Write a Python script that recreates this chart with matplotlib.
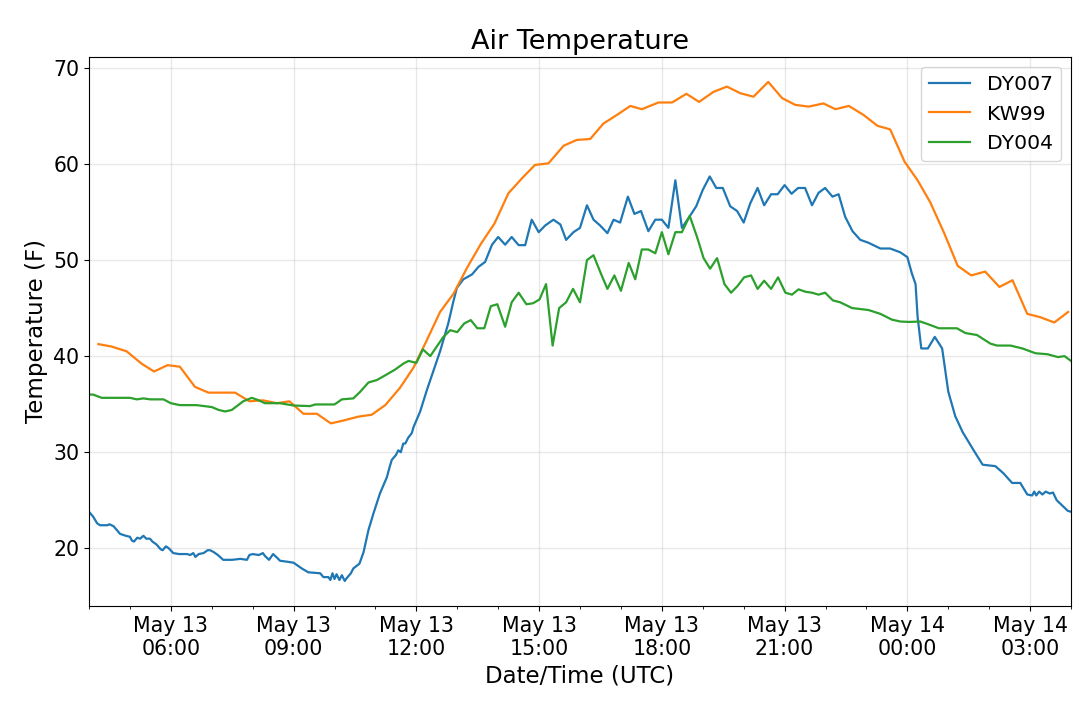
import matplotlib
matplotlib.use("Agg")
import matplotlib.pyplot as plt
import matplotlib.dates as mdates
import pandas as pd

# hours after 2019-05-13 04:00 UTC, temperature in F
START = pd.Timestamp("2019-05-13 04:00")

dy007_hours = [
    0.00, 0.10, 0.20, 0.27, 0.45, 0.50, 0.60, 0.70, 0.76, 0.90, 1.00, 1.05, 1.10, 1.18,
    1.25, 1.33, 1.40, 1.49, 1.55, 1.65, 1.75, 1.80, 1.88, 1.95, 2.06, 2.20, 2.40, 2.47,
    2.55, 2.60, 2.68, 2.80, 2.90, 2.96, 3.05, 3.15, 3.28, 3.50, 3.70, 3.86, 3.92, 4.00,
    4.15, 4.25, 4.30, 4.40, 4.50, 4.60, 4.67, 4.85, 5.00, 5.10, 5.20, 5.36, 5.65, 5.73,
    5.85, 5.90, 5.95, 6.00, 6.05, 6.12, 6.18, 6.25, 6.30, 6.40, 6.46, 6.55, 6.61, 6.71,
    6.83, 6.95, 7.11, 7.28, 7.35, 7.40, 7.50, 7.56, 7.62, 7.68, 7.73, 7.80, 7.89, 7.93,
    8.09, 8.26, 8.42, 8.58, 8.78, 8.90, 8.99, 9.15, 9.36, 9.52, 9.68, 9.85, 10.00,
    10.17, 10.33, 10.50, 10.66, 10.82, 10.99, 11.15, 11.35, 11.52, 11.66, 11.84, 12.00,
    12.17, 12.33, 12.49, 12.67, 12.82, 12.98, 13.17, 13.33, 13.49, 13.67, 13.84, 14.00,
    14.16, 14.33, 14.49, 14.65, 14.84, 15.00, 15.17, 15.33, 15.49, 15.67, 15.84, 16.00,
    16.16, 16.34, 16.50, 16.67, 16.83, 17.00, 17.17, 17.33, 17.50, 17.67, 17.83, 17.99,
    18.17, 18.32, 18.48, 18.66, 18.85, 19.05, 19.34, 19.58, 19.83, 20.00, 20.11, 20.20,
    20.25, 20.34, 20.50, 20.67, 20.85, 21.00, 21.17, 21.35, 21.62, 21.84, 22.15, 22.35,
    22.56, 22.76, 22.93, 23.05, 23.10, 23.15, 23.22, 23.30, 23.38, 23.48, 23.56, 23.65,
    23.82, 23.92, 24.00,
]
dy007_temp = [
    23.8, 23.3, 22.6, 22.4, 22.4, 22.5, 22.3, 21.8, 21.5, 21.3, 21.2, 20.8, 20.7, 21.1,
    21.0, 21.3, 21.0, 21.0, 20.7, 20.4, 19.9, 19.8, 20.2, 20.0, 19.5, 19.4, 19.4, 19.3,
    19.5, 19.1, 19.4, 19.5, 19.8, 19.8, 19.6, 19.3, 18.8, 18.8, 18.9, 18.8, 19.3, 19.4,
    19.3, 19.5, 19.2, 18.8, 19.4, 19.0, 18.7, 18.6, 18.5, 18.2, 17.9, 17.5, 17.4, 17.0,
    17.0, 16.7, 17.4, 16.8, 17.3, 16.7, 17.2, 16.6, 16.9, 17.4, 17.9, 18.2, 18.4, 19.6,
    21.9, 23.6, 25.7, 27.4, 28.5, 29.2, 29.7, 30.2, 30.0, 30.9, 30.9, 31.5, 32.0, 32.6,
    34.2, 36.5, 38.5, 40.5, 43.4, 45.6, 47.1, 48.0, 48.5, 49.3, 49.8, 51.6, 52.4,
    51.6, 52.4, 51.55, 51.55, 54.2, 52.9, 53.6, 54.2, 53.7, 52.1, 52.9, 53.35,
    55.7, 54.2, 53.6, 52.8, 54.2, 53.9, 56.6, 54.8, 55.1, 53.0, 54.2, 54.2,
    53.35, 58.3, 53.35, 54.35, 55.6, 57.3, 58.7, 57.5, 57.5, 55.6, 55.1, 53.9,
    55.9, 57.5, 55.7, 56.85, 56.85, 57.8, 56.9, 57.5, 57.5, 55.7, 57.0, 57.5,
    56.6, 56.85, 54.5, 53.0, 52.1, 51.8, 51.2, 51.2, 50.8, 50.3, 48.6, 47.5,
    44.1, 40.8, 40.8, 42.0, 40.8, 36.3, 33.75, 32.1, 30.2, 28.7, 28.55, 27.8,
    26.8, 26.8, 25.6, 25.5, 25.9, 25.5, 25.9, 25.6, 25.9, 25.7, 25.8, 25.0,
    24.3, 23.9, 23.8,
]

kw99_hours = [
    0.23, 0.55, 0.92, 1.29, 1.59, 1.92, 2.22, 2.59, 2.92, 3.25, 3.57, 3.92, 4.25, 4.59,
    4.90, 5.24, 5.57, 5.91, 6.22, 6.58, 6.91, 7.24, 7.60, 7.93, 8.25, 8.58, 8.91, 9.24,
    9.58, 9.91, 10.25, 10.58, 10.90, 11.23, 11.60, 11.92, 12.25, 12.57, 12.90, 13.23,
    13.51, 13.92, 14.25, 14.60, 14.91, 15.26, 15.59, 15.92, 16.24, 16.60, 16.94, 17.26,
    17.59, 17.95, 18.24, 18.57, 18.93, 19.27, 19.58, 19.93, 20.25, 20.56, 20.90, 21.23,
    21.56, 21.90, 22.25, 22.57, 22.93, 23.25, 23.59, 23.93,
]
kw99_temp = [
    41.25, 41.0, 40.5, 39.2, 38.4, 39.06, 38.9, 36.8, 36.2, 36.2, 36.2, 35.3, 35.4, 35.1,
    35.3, 34.0, 34.0, 33.0, 33.3, 33.7, 33.9, 34.9, 36.7, 38.8, 41.6, 44.6, 46.5, 49.2,
    51.7, 53.8, 56.95, 58.5, 59.9, 60.07, 61.9, 62.5, 62.6, 64.2, 65.1, 66.04,
    65.7, 66.4, 66.4, 67.3, 66.46, 67.5, 68.05, 67.36, 67.0, 68.54, 66.85, 66.15,
    65.97, 66.3, 65.7, 66.04, 65.1, 63.97, 63.6, 60.25, 58.3, 56.0, 52.8, 49.4,
    48.4, 48.8, 47.2, 47.9, 44.4, 44.05, 43.5, 44.6,
]

dy004_hours = [
    0.00, 0.10, 0.31, 1.00, 1.17, 1.33, 1.50, 1.82, 2.00, 2.22, 2.63, 3.00, 3.17, 3.33,
    3.49, 3.77, 3.98, 4.15, 4.30, 4.67, 5.00, 5.40, 5.53, 6.00, 6.18, 6.46, 6.63, 6.83,
    7.03, 7.28, 7.48, 7.69, 7.81, 8.00, 8.16, 8.34, 8.54, 8.66, 8.83, 9.00, 9.17, 9.33,
    9.49, 9.66, 9.82, 9.98, 10.17, 10.33, 10.50, 10.69, 10.85, 11.01, 11.17, 11.33,
    11.49, 11.66, 11.83, 12.00, 12.17, 12.33, 12.51, 12.67, 12.84, 13.00, 13.19, 13.35,
    13.51, 13.67, 13.84, 14.00, 14.16, 14.33, 14.49, 14.68, 14.86, 15.02, 15.18, 15.35,
    15.53, 15.69, 15.85, 16.01, 16.18, 16.34, 16.50, 16.67, 16.84, 17.02, 17.18, 17.34,
    17.51, 17.67, 17.83, 17.99, 18.18, 18.36, 18.65, 18.85, 19.05, 19.34, 19.62, 19.83,
    20.04, 20.32, 20.52, 20.77, 21.21, 21.42, 21.70, 22.03, 22.19, 22.52, 22.81, 23.13,
    23.42, 23.68, 23.84, 24.00,
]
dy004_temp = [
    36.0, 36.0, 35.66, 35.66, 35.5, 35.6, 35.5, 35.5, 35.1, 34.9, 34.9, 34.7, 34.4, 34.24,
    34.4, 35.3, 35.66, 35.4, 35.1, 35.1, 34.86, 34.8, 34.97, 34.97, 35.5, 35.6, 36.3, 37.26,
    37.5, 38.1, 38.6, 39.24, 39.5, 39.3, 40.7, 40.0, 41.25, 42.0, 42.7, 42.5, 43.4, 43.75,
    42.9, 42.9, 45.2, 45.4, 43.06, 45.6, 46.6, 45.4, 45.5, 45.9, 47.5, 41.1,
    45.0, 45.6, 47.0, 45.6, 50.0, 50.5, 48.6, 47.0, 48.4, 46.8, 49.7, 48.0,
    51.1, 51.1, 50.7, 52.9, 50.6, 52.9, 52.9, 54.6, 52.4, 50.2, 49.1, 50.2,
    47.5, 46.6, 47.3, 48.2, 48.4, 47.0, 47.85, 47.0, 48.2, 46.6, 46.4, 46.95,
    46.7, 46.6, 46.4, 46.6, 45.8, 45.6, 45.0, 44.9, 44.8, 44.4, 43.8, 43.6,
    43.56, 43.6, 43.3, 42.9, 42.9, 42.4, 42.2, 41.3, 41.1, 41.1, 40.8, 40.3,
    40.2, 39.9, 40.0, 39.5,
]


def to_times(hours):
    return START + pd.to_timedelta(hours, unit="h")


fig = plt.figure(figsize=(10.8, 7.12), dpi=100)
ax = fig.add_axes([0.0824, 0.149, 0.9093, 0.771])

ax.plot(to_times(dy007_hours), dy007_temp, color="#1f77b4", lw=1.6, label="DY007")
ax.plot(to_times(kw99_hours), kw99_temp, color="#ff7f0e", lw=1.6, label="KW99")
ax.plot(to_times(dy004_hours), dy004_temp, color="#2ca02c", lw=1.6, label="DY004")

ax.set_xlim(START, START + pd.Timedelta(hours=24))
ax.xaxis.set_major_locator(mdates.HourLocator(byhour=range(0, 24, 3)))
ax.xaxis.set_minor_locator(mdates.HourLocator())
ax.xaxis.set_major_formatter(mdates.DateFormatter("%b %d\n%H:%M"))
ax.set_yticks([20, 30, 40, 50, 60, 70])

ax.grid(True, color="#b0b0b0", alpha=0.3, lw=0.9)
ax.tick_params(axis="both", which="major", labelsize=14.8)

ax.set_title("Air Temperature", fontsize=19.5)
ax.set_xlabel("Date/Time (UTC)", fontsize=16.5)
ax.set_ylabel("Temperature (F)", fontsize=16.5)
ax.legend(loc="upper right", fontsize=14.7)

fig.savefig("out.png", dpi=100)
